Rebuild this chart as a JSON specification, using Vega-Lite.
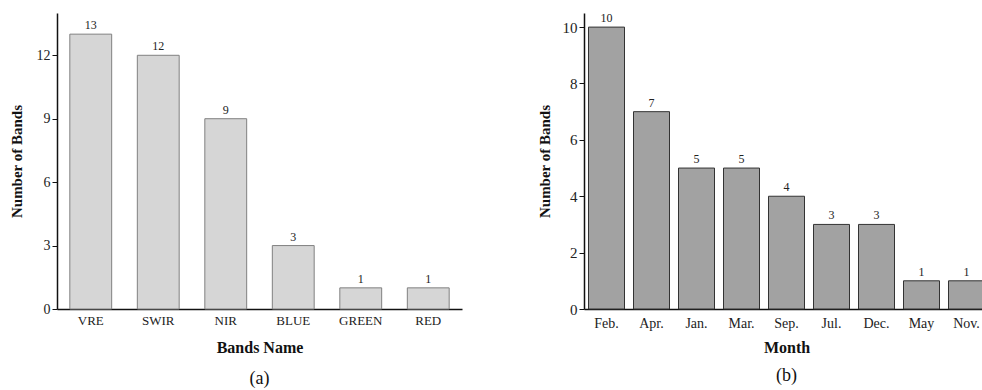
{
  "$schema": "https://vega.github.io/schema/vega-lite/v6.json",
  "background": "white",
  "padding": {"left": 9, "top": 12, "right": 0, "bottom": 0},
  "spacing": 75,
  "config": {
    "view": {"stroke": null},
    "font": "Liberation Serif",
    "axis": {"labelFont": "Liberation Serif", "titleFont": "Liberation Serif", "labelColor": "#222", "titleColor": "#111", "domainColor": "#111", "tickColor": "#111", "domainWidth": 1.5, "grid": false},
    "title": {"font": "Liberation Serif", "fontWeight": "normal", "color": "#111"}
  },
  "hconcat": [
    {
      "width": 405,
      "height": 296,
      "title": {"text": "(a)", "orient": "bottom", "fontSize": 18, "offset": 15},
      "data": {"values": [
        {"band": "VRE", "n": 13},
        {"band": "SWIR", "n": 12},
        {"band": "NIR", "n": 9},
        {"band": "BLUE", "n": 3},
        {"band": "GREEN", "n": 1},
        {"band": "RED", "n": 1}
      ]},
      "encoding": {
        "x": {"field": "band", "type": "nominal", "sort": null, "scale": {"paddingInner": 0.38},
          "axis": {"title": "Bands Name", "labelAngle": 0, "ticks": false, "labelPadding": 5, "labelFontSize": 13, "titleFontSize": 16, "titlePadding": 12}},
        "y": {"field": "n", "type": "quantitative", "scale": {"domain": [0, 14], "nice": false},
          "axis": {"title": "Number of Bands", "values": [0, 3, 6, 9, 12], "tickSize": 5, "labelFontSize": 14, "titleFontSize": 15, "titlePadding": 12}}
      },
      "layer": [
        {"mark": {"type": "bar", "fill": "#d6d6d6", "stroke": "#808080", "strokeWidth": 1}},
        {"mark": {"type": "text", "baseline": "bottom", "dy": -2, "fontSize": 12, "color": "#222"}, "encoding": {"text": {"field": "n"}}}
      ]
    },
    {
      "width": 405,
      "height": 296,
      "title": {"text": "(b)", "orient": "bottom", "fontSize": 18, "offset": 12},
      "data": {"values": [
        {"month": "Feb.", "n": 10},
        {"month": "Apr.", "n": 7},
        {"month": "Jan.", "n": 5},
        {"month": "Mar.", "n": 5},
        {"month": "Sep.", "n": 4},
        {"month": "Jul.", "n": 3},
        {"month": "Dec.", "n": 3},
        {"month": "May", "n": 1},
        {"month": "Nov.", "n": 1}
      ]},
      "encoding": {
        "x": {"field": "month", "type": "nominal", "sort": null, "scale": {"paddingInner": 0.2},
          "axis": {"title": "Month", "labelAngle": 0, "ticks": false, "labelPadding": 7, "labelFontSize": 14, "titleFontSize": 16, "titlePadding": 9}},
        "y": {"field": "n", "type": "quantitative", "scale": {"domain": [0, 10.5], "nice": false},
          "axis": {"title": "Number of Bands", "values": [0, 2, 4, 6, 8, 10], "tickSize": 5, "labelFontSize": 15, "titleFontSize": 15, "titlePadding": 10}}
      },
      "layer": [
        {"mark": {"type": "bar", "fill": "#a2a2a2", "stroke": "#333", "strokeWidth": 1}},
        {"mark": {"type": "text", "baseline": "bottom", "dy": -2, "fontSize": 12, "color": "#222"}, "encoding": {"text": {"field": "n"}}}
      ]
    }
  ]
}
